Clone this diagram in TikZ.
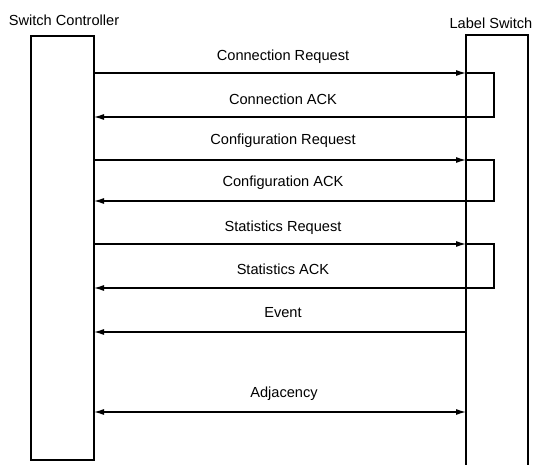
\documentclass[tikz,border=0pt]{standalone}
\usepackage{fontspec}
\setmainfont{Liberation Sans}
\usetikzlibrary{arrows.meta}

\tikzset{
  life/.style={line width=1.2pt},
  msg/.style={line width=1.2pt,-{Latex[length=10pt,width=6pt]}},
  dmsg/.style={line width=1.2pt,{Latex[length=10pt,width=6pt]}-{Latex[length=10pt,width=6pt]}},
  lbl/.style={anchor=base,inner sep=0pt}
}

\begin{document}
\begin{tikzpicture}[x=1pt,y=-1pt,font=\fontsize{14.6}{17}\selectfont]
  \useasboundingbox (0,0) rectangle (536,465);
  % the two lifelines
  \draw[life] (31,36) rectangle (94,460);
  \draw[life] (466,465) -- (466,35) -- (528,35) -- (528,465);
  \path (64,20) node (ctl) {Switch Controller};
  \path (491,23) node (sw) {Label Switch};
  % request / ack pairs
  \foreach \yq/\ya/\bq/\ba/\txt in {73/117/61/105/Connection,
                                    160/201/145/187/Configuration,
                                    244/288/232/275/Statistics}{
    \path (94,\yq) coordinate (cq) (466,\yq) coordinate (sq)
          (494,\ya) coordinate (lp) (94,\ya) coordinate (ca);
    \draw[msg] (cq) -- (sq);
    \draw[msg] (sq) -| (lp) -- (ca);
    \path (283,\bq) node[lbl] (req) {\txt\ Request};
    \path (283,\ba) node[lbl] (ack) {\txt\ ACK};
  }
  % event
  \path (94,332) coordinate (ce) (466,332) coordinate (se);
  \draw[msg] (se) -- (ce);
  \path (283,318) node[lbl] (ev) {Event};
  % adjacency
  \path (94,412) coordinate (cd) (466,412) coordinate (sd);
  \draw[dmsg] (cd) -- (sd);
  \path (284,397) node[lbl] (adj) {Adjacency};
\end{tikzpicture}
\end{document}
